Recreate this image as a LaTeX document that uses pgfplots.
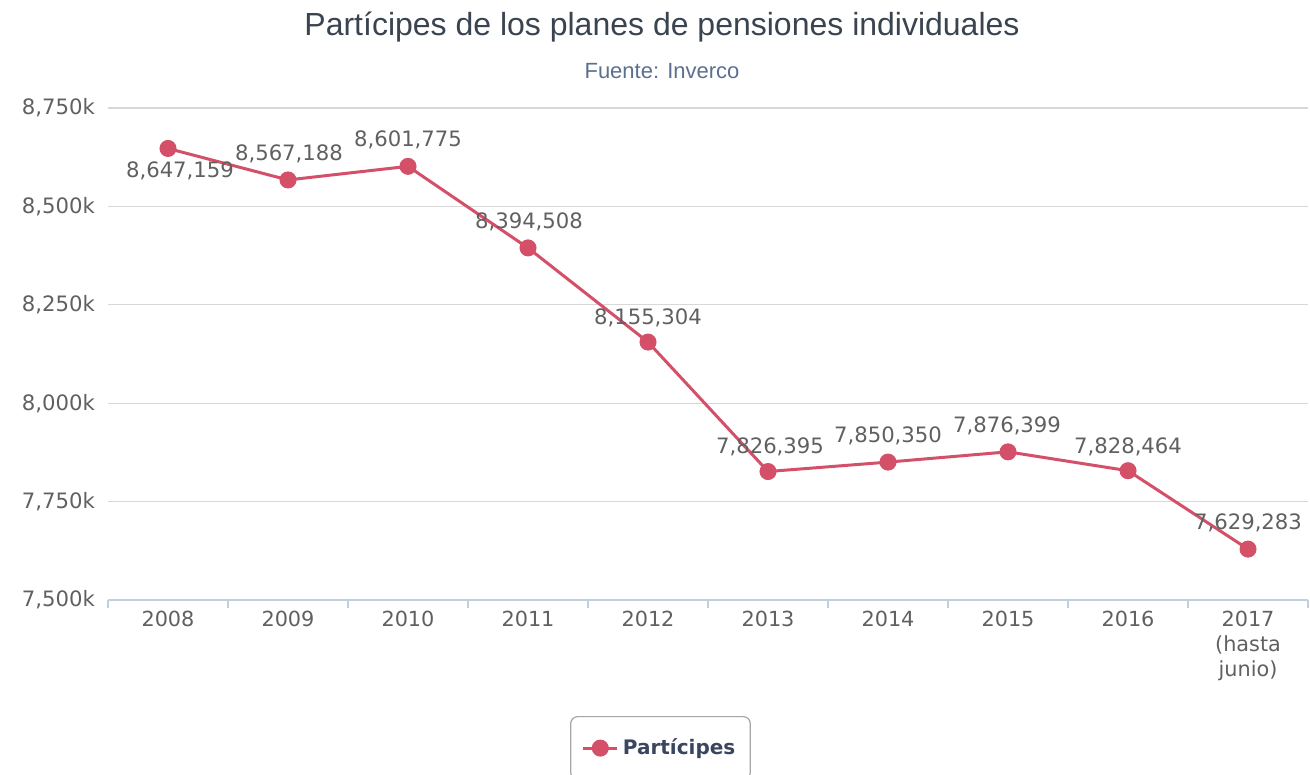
\documentclass[border=0pt]{standalone}
\usepackage{pgfplots}
\pgfplotsset{compat=1.18}
\usepackage{pgfplotstable}
\usepackage{fontspec}
\setmainfont{DejaVu Sans}
\newfontfamily\titlefont{Liberation Sans}

\definecolor{linecol}{HTML}{D45069}
\definecolor{gridcol}{HTML}{D8D8D8}
\definecolor{axiscol}{HTML}{C0D0E0}
\definecolor{labcol}{HTML}{606060}
\definecolor{titlecol}{HTML}{3A4450}
\definecolor{subcol}{HTML}{5A7090}
\definecolor{legcol}{HTML}{3A4560}

% x = year index, dx/dy = label offset (pt)
\pgfplotstableread{
x y dx dy lab
0 8647159 6 -11 8,647,159
1 8567188 0.5 13 8,567,188
2 8601775 0 13 8,601,775
3 8394508 0.5 13 8,394,508
4 8155304 0 12 8,155,304
5 7826395 1 12.5 7,826,395
6 7850350 0 13 7,850,350
7 7876399 -0.5 13 7,876,399
8 7828464 0 12 7,828,464
9 7629283 0 13 7,629,283
}\participes

\begin{document}
\begin{tikzpicture}
\useasboundingbox (-54pt,-87.5pt) rectangle (601pt,300pt);
\begin{axis}[
    at={(0,0)}, anchor=south west,
    scale only axis,
    width=600pt, height=246pt,
    xmin=-0.5, xmax=9.5,
    ymin=7500000, ymax=8750000,
    scaled y ticks=false,
    axis x line*=bottom,
    axis y line*=left,
    y axis line style={draw=none},
    x axis line style={draw=axiscol, line width=0.6pt},
    xtick={0,...,9},
    xticklabels={2008,2009,2010,2011,2012,2013,2014,2015,2016,{2017\\(hasta\\junio)}},
    minor xtick={-0.5,0.5,...,9.5},
    tick align=outside,
    major tick length=0pt,
    minor tick length=4pt,
    minor x tick style={draw=axiscol, line width=0.6pt},
    xticklabel style={font=\fontsize{10.4}{12.5}\selectfont, text=labcol, align=center, yshift=-2pt},
    ytick={7500000,7750000,8000000,8250000,8500000,8750000},
    yticklabels={{7,500k},{7,750k},{8,000k},{8,250k},{8,500k},{8,750k}},
    yticklabel style={font=\fontsize{10.6}{12}\selectfont, text=labcol, xshift=-3pt},
    ymajorgrids,
    major grid style={draw=gridcol, line width=0.6pt},
    clip=false,
    legend style={at={(0.4604,-0.2358)}, anchor=north, draw=gray!70, rounded corners=3.5pt,
        line width=0.6pt, font=\bfseries\fontsize{10}{12}\selectfont, text=legcol,
        inner xsep=5.5pt, inner ysep=9pt},
]
\addplot[color=linecol, line width=1.5pt, mark=*, mark size=3.5pt,
    mark options={fill=linecol, draw=linecol},
    nodes near coords,
    point meta=explicit symbolic,
    visualization depends on={\thisrow{dx} \as \dx},
    visualization depends on={\thisrow{dy} \as \dy},
    every node near coord/.append style={anchor=center, xshift=\dx pt, yshift=\dy pt,
        font=\fontsize{10.6}{12}\selectfont, text=labcol, inner sep=0pt}]
    table[x=x, y=y, meta=lab] {\participes};
\addlegendentry{Partícipes}
\end{axis}
\node[font=\titlefont\fontsize{16}{19}\selectfont, text=titlecol] at (277pt,286.5pt) {Partícipes de los planes de pensiones individuales};
\node[font=\titlefont\fontsize{11}{13}\selectfont, text=subcol] at (277pt,264.5pt) {Fuente: Inverco};
\end{tikzpicture}
\end{document}
